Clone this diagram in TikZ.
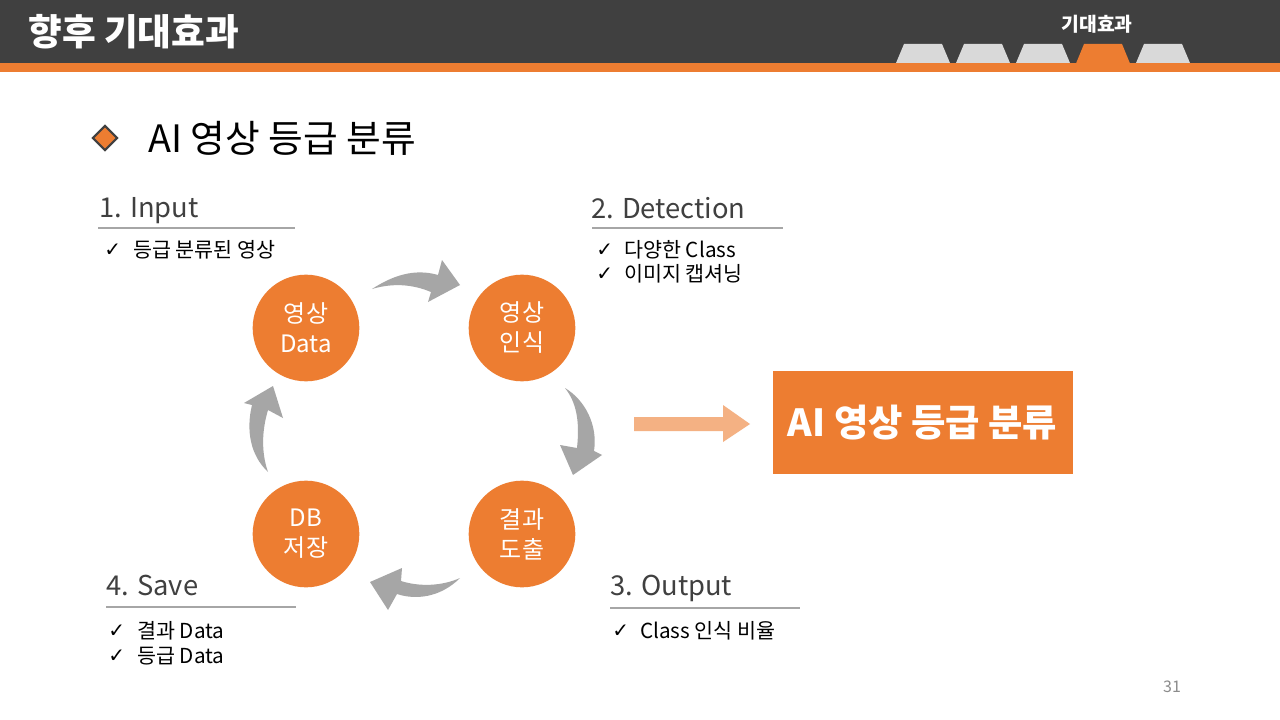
\documentclass[tikz,border=0pt]{standalone}
\usepackage{fontspec}
\usetikzlibrary{shapes.geometric}
\setmainfont{Noto Sans CJK KR}
\newfontfamily\chkfont{DejaVu Sans}
\definecolor{hdrgray}{HTML}{404040}
\definecolor{orng}{HTML}{ED7D31}
\definecolor{lorng}{HTML}{F4B183}
\definecolor{arrgray}{HTML}{A6A6A6}
\definecolor{tabgray}{HTML}{D9D9D9}
\definecolor{pgray}{HTML}{8C8C8C}
\newcommand{\fsz}[1]{\fontsize{#1}{#1}\selectfont}
\tikzset{
  cyc/.style={circle, fill=orng, minimum size=80pt, inner sep=0pt, text=white, align=center, font=\fontsize{18}{22.5}\selectfont},
  heading/.style={anchor=west, inner sep=0pt, text=hdrgray, font=\fsz{20.5}},
  bullet/.style={anchor=west, inner sep=0pt, text=black, font=\fsz{15.5}},
  chkmark/.style={anchor=west, inner sep=0pt, text=black, font=\chkfont\fsz{15}},
  uline/.style={draw=arrgray, line width=2.2pt},
  tabshape/.style={fill=tabgray},
  curvarrow/.style={fill=arrgray},
}
\begin{document}
\begin{tikzpicture}[x=0.75pt,y=-0.75pt]
\useasboundingbox (0,0) rectangle (1280,720);
\fill[white] (0,0) rectangle (1280,720);
% header
\fill[hdrgray] (0,0) rectangle (1280,64);
\fill[orng] (0,63) rectangle (1280,72);
\foreach \i in {0,1,2,4} {
  \fill[tabshape] (896+60*\i,63) -- (904+60*\i,44) -- (942+60*\i,44) -- (950+60*\i,63) -- cycle;
}
\fill[orng] (1076,63.5) -- (1084,44) -- (1122,44) -- (1130,63.5) -- cycle;
\node[anchor=west, inner sep=0pt, text=white, font=\bfseries\fsz{27.5}] (title) at (28,32) {향후 기대효과};
\node[inner sep=0pt, text=white, font=\bfseries\fsz{14.5}] (tablbl) at (1097,24) {기대효과};
% subtitle
\node[diamond, fill=orng, draw=hdrgray, line width=1.6pt, minimum size=19pt, inner sep=0pt] (dia) at (105,138) {};
\node[anchor=west, inner sep=0pt, font=\fsz{28.3}] (sub) at (148,138) {AI 영상 등급 분류};
% circles
\node[cyc] (c1) at (306,328) {영상\\Data};
\node[cyc] (c2) at (522,328) {영상\\인식};
\node[cyc] (c3) at (522,534) {결과\\도출};
\node[cyc] (c4) at (306,534) {DB\\저장};
% curved arrows
\fill[curvarrow] (372,289) .. controls (392,276) and (414,268) .. (438,275)
  -- (442,260) -- (460,285) -- (428,302) -- (431,292)
  .. controls (412,284) and (392,283) .. (372,289) -- cycle;
\fill[curvarrow] (565,388) .. controls (585,400) and (598,425) .. (594,451)
  -- (602,455) -- (573,475) -- (560,445) -- (577,448)
  .. controls (580,420) and (576,402) .. (565,388) -- cycle;
\fill[curvarrow] (460,578) .. controls (440,598) and (415,600) .. (397,594)
  -- (388,610) -- (370,582) -- (402,568) -- (401,581)
  .. controls (420,587) and (442,586) .. (460,578) -- cycle;
\fill[curvarrow] (268,472) .. controls (250,455) and (246,430) .. (252,405)
  -- (244,403) -- (273,386) -- (283,418) -- (268,410)
  .. controls (262,430) and (261,452) .. (268,472) -- cycle;
% big arrow and result box
\fill[lorng] (634,417) -- (723,417) -- (723,405) -- (750,424) -- (723,442) -- (723,431) -- (634,431) -- cycle;
\node[fill=orng, minimum width=225pt, minimum height=77.25pt, inner sep=0pt, text=white, font=\bfseries\fsz{28}] (res) at (922.5,422.5) {AI 영상 등급 분류};
% section 1
\node[heading] (h1) at (99,211) {1. Input};
\draw[uline] (98,228) -- (295,228);
\node[chkmark] (k11) at (104,250) {✓};
\node[bullet] (b11) at (133,250) {등급 분류된 영상};
% section 2
\node[heading] (h2) at (591,208) {2. Detection};
\draw[uline] (592,228) -- (783,228);
\node[chkmark] (k21) at (596,250) {✓};
\node[bullet] (b21) at (624,250) {다양한 Class};
\node[chkmark] (k22) at (596,274) {✓};
\node[bullet] (b22) at (624,274) {이미지 캡셔닝};
% section 3
\node[heading] (h3) at (610,588) {3. Output};
\draw[uline] (610,608) -- (800,608);
\node[chkmark] (k31) at (612,631) {✓};
\node[bullet] (b31) at (640,631) {Class 인식 비율};
% section 4
\node[heading] (h4) at (106,585) {4. Save};
\draw[uline] (106,607) -- (296,607);
\node[chkmark] (k41) at (108,631) {✓};
\node[bullet] (b41) at (137,631) {결과 Data};
\node[chkmark] (k42) at (108,656) {✓};
\node[bullet] (b42) at (137,656) {등급 Data};
% page number
\node[inner sep=0pt, text=pgray, font=\fsz{12}] (pg) at (1172,687) {31};
\end{tikzpicture}
\end{document}
